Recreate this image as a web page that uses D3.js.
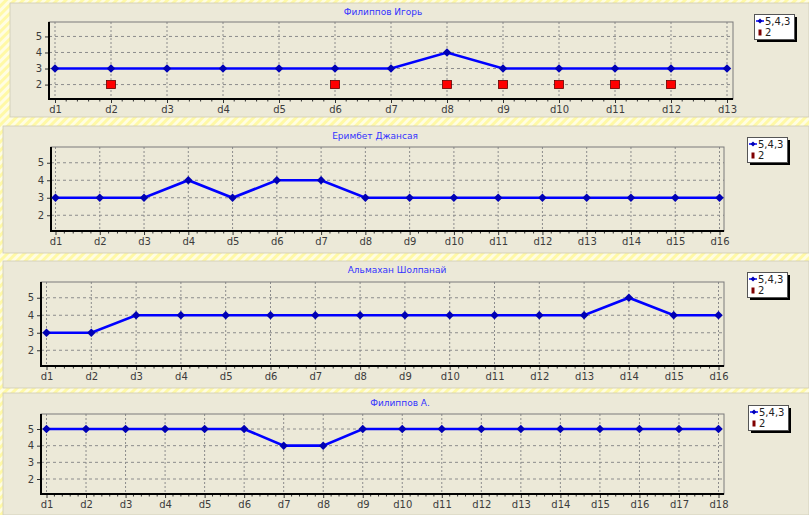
<!DOCTYPE html>
<html>
<head>
<meta charset="utf-8">
<script src="https://cdn.jsdelivr.net/npm/d3@7"></script>
<style>
  body { margin: 0; background: #fffbb8; }
  svg { display: block; }
  text { font-family: "DejaVu Sans", Verdana, sans-serif; }
</style>
</head>
<body>
<div id="container"></div>
<script>
const width = 809;
const height = 515;

// chart data
const titles = ["Филиппов Игорь", "Еримбет Джансая", "Альмахан Шолпанай", "Филиппов А."];
const legendLabels = ["5,4,3", "2"];
const yTicks = [2, 3, 4, 5];

const days1 = ["d1","d2","d3","d4","d5","d6","d7","d8","d9","d10","d11","d12","d13"];
const days2 = ["d1","d2","d3","d4","d5","d6","d7","d8","d9","d10","d11","d12","d13","d14","d15","d16"];
const days3 = ["d1","d2","d3","d4","d5","d6","d7","d8","d9","d10","d11","d12","d13","d14","d15","d16"];
const days4 = ["d1","d2","d3","d4","d5","d6","d7","d8","d9","d10","d11","d12","d13","d14","d15","d16","d17","d18"];

const marks1 = [3,3,3,3,3,3,3,4,3,3,3,3,3];
const marks2 = [3,3,3,4,3,4,4,3,3,3,3,3,3,3,3,3];
const marks3 = [3,3,4,4,4,4,4,4,4,4,4,4,4,5,4,4];
const marks4 = [5,5,5,5,5,5,4,4,5,5,5,5,5,5,5,5,5,5];

// the "2" series, only in the first chart
const twos1 = [null,2,null,null,null,2,null,2,2,2,2,2,null];
const twos2 = [];
const twos3 = [];
const twos4 = [];

// layout of the four stacked panels
const panels = [
	{ x: 10, y: 3,   w: 799, h: 114, l: 49, t: 22,  r: 733, b: 99,  inset: 6, tx: 383, ty: 15,  lx: 754, ly: 14 },
	{ x: 3,  y: 126, w: 806, h: 127, l: 51, t: 147, r: 724, b: 231, inset: 4.5, tx: 375, ty: 139, lx: 747, ly: 137 },
	{ x: 3,  y: 261, w: 806, h: 127, l: 41, t: 282, r: 724, b: 366, inset: 5.5, tx: 397, ty: 273, lx: 747, ly: 272 },
	{ x: 3,  y: 393, w: 806, h: 122, l: 41, t: 414, r: 724, b: 494, inset: 5.5, tx: 400, ty: 406, lx: 748, ly: 405 }
];
const days = [days1, days2, days3, days4];
const marks = [marks1, marks2, marks3, marks4];
const twos = [twos1, twos2, twos3, twos4];

let svg = d3.select("#container")
	.append("svg")
	.attr("width", width)
	.attr("height", height);

// hatched yellow background between panels
let defs = svg.append("defs");
let pat = defs.append("pattern")
	.attr("id", "hatch")
	.attr("width", 6)
	.attr("height", 6)
	.attr("patternUnits", "userSpaceOnUse")
	.attr("patternTransform", "rotate(45)");
pat.append("rect").attr("width", 6).attr("height", 6).attr("fill", "#fff9a6");
pat.append("rect").attr("width", 3).attr("height", 6).attr("fill", "#fffde2");

svg.append("rect")
	.attr("width", width)
	.attr("height", height)
	.attr("fill", "url(#hatch)");

// round-ish diamond marker, a square turned by 45 degrees
const marker = d3.symbol().type(d3.symbolSquare).size(36);

panels.forEach(function(p, i) {
	let g = svg.append("g");

	g.append("rect")
		.attr("x", p.x).attr("y", p.y)
		.attr("width", p.w).attr("height", p.h)
		.attr("fill", "#ece9d8")
		.attr("stroke", "#cfcbb6")
		.attr("stroke-width", 0.8);

	let x = d3.scalePoint()
		.domain(days[i])
		.range([p.l + p.inset, p.r - p.inset]);

	let y = d3.scaleLinear()
		.domain([1.1, 5.9])
		.range([p.b, p.t]);

	// grid
	g.append("g").selectAll("line")
		.data(yTicks)
		.enter().append("line")
		.attr("x1", p.l).attr("x2", p.r)
		.attr("y1", d => y(d)).attr("y2", d => y(d))
		.attr("stroke", "#8c8c8c")
		.attr("stroke-dasharray", "3,3");

	g.append("g").selectAll("line")
		.data(days[i])
		.enter().append("line")
		.attr("x1", d => x(d)).attr("x2", d => x(d))
		.attr("y1", p.t).attr("y2", p.b)
		.attr("stroke", "#8c8c8c")
		.attr("stroke-dasharray", "2,2");

	// frame
	g.append("rect")
		.attr("x", p.l).attr("y", p.t)
		.attr("width", p.r - p.l).attr("height", p.b - p.t)
		.attr("fill", "none")
		.attr("stroke", "#7a7a7a");

	// x axis with minor ticks
	let step = x.step();
	let minor = [];
	days[i].forEach(function(d, k) {
		if (k < days[i].length - 1) {
			for (let m = 1; m < 5; m++) minor.push(x(d) + step * m / 5);
		}
	});
	g.append("g").selectAll("line")
		.data(minor)
		.enter().append("line")
		.attr("x1", d => d).attr("x2", d => d)
		.attr("y1", p.b).attr("y2", p.b + 2.5)
		.attr("stroke", "#333");

	let xAxis = g.append("g")
		.attr("transform", "translate(0," + p.b + ")")
		.call(d3.axisBottom(x).tickSize(4).tickPadding(3));
	xAxis.select(".domain").remove();
	xAxis.selectAll("line").attr("stroke", "#333");
	xAxis.selectAll("text")
		.attr("font-size", 10)
		.attr("fill", "#3c3c3c");

	let yAxis = g.append("g")
		.attr("transform", "translate(" + p.l + ",0)")
		.call(d3.axisLeft(y).tickValues(yTicks).tickFormat(d3.format("d")).tickSize(4).tickPadding(3));
	yAxis.select(".domain").remove();
	yAxis.selectAll("line").attr("stroke", "#333");
	yAxis.selectAll("text")
		.attr("font-size", 10)
		.attr("fill", "#3c3c3c");

	// black left/bottom axis lines
	g.append("path")
		.attr("d", "M" + p.l + "," + p.t + "V" + p.b + "H" + p.r)
		.attr("fill", "none")
		.attr("stroke", "#000")
		.attr("stroke-width", 2);

	// "5,4,3" series
	let line = d3.line()
		.x((d, k) => x(days[i][k]))
		.y(d => y(d));

	g.append("path")
		.datum(marks[i])
		.attr("d", line)
		.attr("fill", "none")
		.attr("stroke", "#0000ff")
		.attr("stroke-width", 2.6);

	g.append("g").selectAll("path")
		.data(marks[i])
		.enter().append("path")
		.attr("transform", (d, k) => "translate(" + x(days[i][k]) + "," + y(d) + ") rotate(45)")
		.attr("d", marker)
		.attr("fill", "#0000b4");

	// "2" series
	g.append("g").selectAll("rect")
		.data(twos[i].map((d, k) => [days[i][k], d]).filter(d => d[1] !== null))
		.enter().append("rect")
		.attr("x", d => x(d[0]) - 4.5)
		.attr("y", d => y(d[1]) - 4)
		.attr("width", 9)
		.attr("height", 8)
		.attr("fill", "#ff0000")
		.attr("stroke", "#600000")
		.attr("stroke-width", 0.8);

	// title
	g.append("text")
		.attr("x", p.tx).attr("y", p.ty)
		.attr("text-anchor", "middle")
		.attr("font-size", 9)
		.attr("fill", "#3333ff")
		.text(titles[i]);

	// legend
	let lg = g.append("g")
		.attr("transform", "translate(" + p.lx + "," + p.ly + ")");
	lg.append("rect")
		.attr("x", 3).attr("y", 3)
		.attr("width", 40).attr("height", 25)
		.attr("fill", "#000");
	lg.append("rect")
		.attr("x", 0.5).attr("y", 0.5)
		.attr("width", 40).attr("height", 25)
		.attr("fill", "#fff")
		.attr("stroke", "#555");
	lg.append("line")
		.attr("x1", 2).attr("x2", 10)
		.attr("y1", 7).attr("y2", 7)
		.attr("stroke", "#0000ff")
		.attr("stroke-width", 1.5);
	lg.append("path")
		.attr("transform", "translate(6,7) rotate(45)")
		.attr("d", d3.symbol().type(d3.symbolSquare).size(12))
		.attr("fill", "#0000b4");
	lg.append("rect")
		.attr("x", 4.5).attr("y", 15.5)
		.attr("width", 3).attr("height", 6)
		.attr("fill", "#800000");
	lg.selectAll("text")
		.data(legendLabels)
		.enter().append("text")
		.attr("x", 11)
		.attr("y", (d, k) => 10.5 + k * 11.5)
		.attr("font-size", 10)
		.attr("fill", "#222")
		.text(d => d);
});
</script>
</body>
</html>
